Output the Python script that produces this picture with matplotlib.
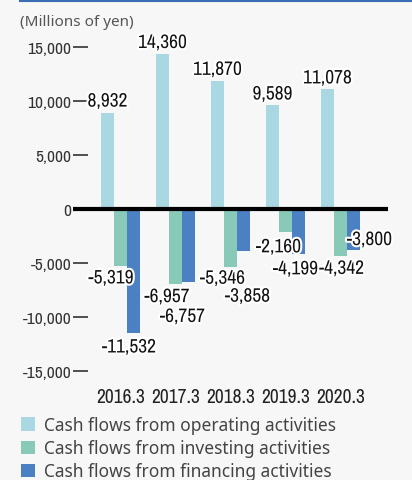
import matplotlib
matplotlib.use("Agg")
import matplotlib.pyplot as plt
import matplotlib.patheffects as pe
from matplotlib import font_manager
import numpy as np

years = ["2016.3", "2017.3", "2018.3", "2019.3", "2020.3"]
operating = [8932, 14360, 11870, 9589, 11078]
investing = [-5319, -6957, -5346, -2160, -4342]
financing = [-11532, -6757, -3858, -4199, -3800]
series_names = ["Cash flows from operating activities",
                "Cash flows from investing activities",
                "Cash flows from financing activities"]
yticks = [15000, 10000, 5000, 0, -5000, -10000, -15000]

colors = ["#a9d8e3", "#88c9b7", "#4b80c3"]


def find_narrow():
    cands = []
    for f in font_manager.fontManager.ttflist:
        fn = f.fname.lower()
        if ("narrow" in fn or "condensed" in fn) and "bold" not in fn and "italic" not in fn and "oblique" not in fn:
            cands.append(f.fname)
    pref = [c for c in cands if "narrow" in c.lower()] + [c for c in cands if "narrow" not in c.lower()]
    return pref


cands = find_narrow()
NARROW_FILE = cands[0] if cands else None


def nfp(size):
    if NARROW_FILE:
        return font_manager.FontProperties(fname=NARROW_FILE, size=size)
    return font_manager.FontProperties(family="DejaVu Sans", stretch="condensed", size=size)


plain = "Noto Sans"

W, H = 412, 481
fig = plt.figure(figsize=(W / 100, H / 100), dpi=100)
bg = "#f7f7f7"
fig.patch.set_facecolor(bg)
ax = fig.add_axes([73 / W, (H - 373) / H, (388 - 73) / W, (373 - 47) / H])
ax.set_facecolor(bg)

x = np.arange(len(years))
bw = 13 / 55
series = [operating, investing, financing]
bars = []
for i, (vals, c, name) in enumerate(zip(series, colors, series_names)):
    b = ax.bar(x + (i - 1) * bw, vals, bw, color=c, label=name, zorder=2)
    bars.append(b)

ax.set_xlim(-0.864, 4.864)
ax.set_ylim(-15100, 15100)
ax.axhline(0, color="black", lw=3, zorder=3)

for s in ax.spines.values():
    s.set_visible(False)
ax.set_yticks(yticks)
ax.set_yticklabels([f"{v:,}" for v in yticks], color="#333333")
for t in ax.get_yticklabels():
    t.set_fontproperties(nfp(12.5))
ax.tick_params(axis="y", direction="in", length=10.5, width=1.2, color="#333333", pad=1)
ax.set_xticks(x)
ax.set_xticklabels(years, color="#222222")
for t in ax.get_xticklabels():
    t.set_fontproperties(nfp(14))
ax.tick_params(axis="x", length=0, pad=11)

stroke = [pe.withStroke(linewidth=3, foreground="white")]
VS = 14
for i, v in enumerate(operating):
    ax.annotate(f"{v:,}", xy=(x[i] - bw, v), xytext=(0, 2), textcoords="offset pixels",
                ha="center", va="bottom", fontproperties=nfp(VS),
                color="#111111", path_effects=stroke, zorder=5)
inv_off = [(-9.5, -2), (-8.5, -3), (-8, -2), (-7, -5), (1, -3)]
fin_off = [(-4.5, -4), (-6, -25), (4, -36), (-3, -5), (16, 20)]
for i, v in enumerate(investing):
    dx, dy = inv_off[i]
    ax.annotate(f"{v:,}", xy=(x[i], v), xytext=(dx, dy), textcoords="offset pixels",
                ha="center", va="top", fontproperties=nfp(VS),
                color="#111111", path_effects=stroke, zorder=5)
for i, v in enumerate(financing):
    dx, dy = fin_off[i]
    ax.annotate(f"{v:,}", xy=(x[i] + bw, v), xytext=(dx, dy), textcoords="offset pixels",
                ha="center", va="top", fontproperties=nfp(VS),
                color="#111111", path_effects=stroke, zorder=5)

fig.text(20 / W, 1 - 22 / H, "(Millions of yen)", fontfamily=plain, fontsize=11,
         color="#555555", va="center", ha="left")
fig.add_artist(plt.Line2D([20 / W, 1], [1 - 1.5 / H, 1 - 1.5 / H], color="#3a6db3", lw=1.5))

leg = fig.legend(handles=bars, loc="upper left", bbox_to_anchor=(21 / W, 1 - 417 / H),
                 frameon=False, prop={"family": plain, "size": 12.5}, labelcolor="#444444",
                 handlelength=0.8, handleheight=0.8, handletextpad=0.55, labelspacing=0.3,
                 borderaxespad=0, borderpad=0)

fig.savefig("out.png", dpi=100, facecolor=bg)
